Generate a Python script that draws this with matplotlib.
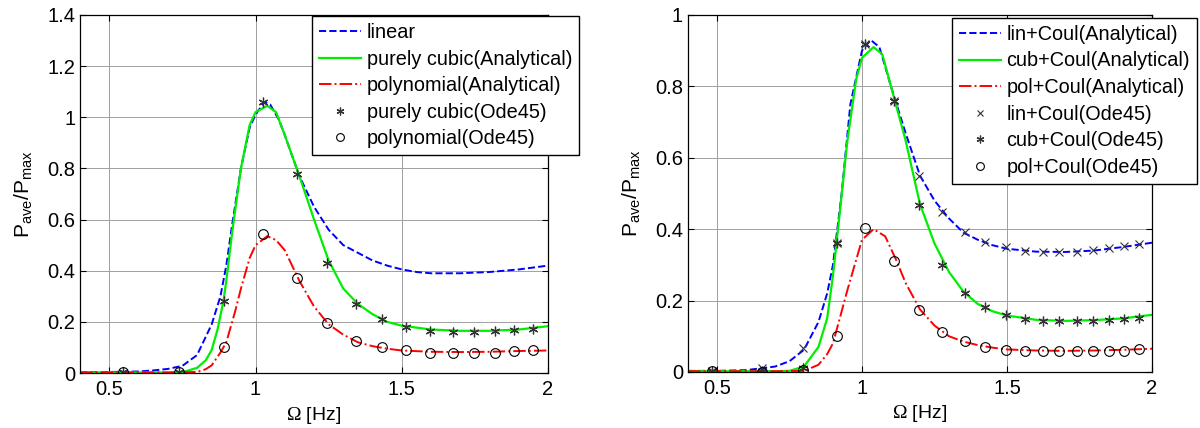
import numpy as np
import matplotlib.pyplot as plt
from matplotlib.ticker import FormatStrFormatter

plt.rcParams['font.family'] = ['Liberation Sans', 'DejaVu Sans']
plt.rcParams['mathtext.fontset'] = 'custom'
plt.rcParams['mathtext.rm'] = 'Liberation Sans'
plt.rcParams['mathtext.it'] = 'Liberation Sans'
plt.rcParams['mathtext.sf'] = 'Liberation Serif'

# ---- left panel: no Coulomb friction ----
lin_x = [0.4, 0.5, 0.6, 0.65, 0.7, 0.75, 0.8, 0.85, 0.88, 0.9, 0.92, 0.95, 0.98, 1.0, 1.03, 1.05,
         1.08, 1.1, 1.15, 1.2, 1.25, 1.3, 1.35, 1.4, 1.45, 1.5, 1.55, 1.6, 1.7, 1.8, 1.9, 2.0]
lin_y = [0.003, 0.004, 0.006, 0.01, 0.016, 0.028, 0.07, 0.19, 0.3, 0.42, 0.58, 0.8, 0.96, 1.01, 1.06, 1.05,
         0.99, 0.93, 0.77, 0.65, 0.56, 0.5, 0.47, 0.44, 0.42, 0.405, 0.395, 0.39, 0.39, 0.395, 0.405, 0.42]

cub_x = [0.4, 0.5, 0.6, 0.7, 0.75, 0.8, 0.83, 0.85, 0.87, 0.89, 0.9, 0.92, 0.95, 0.98, 1.0, 1.04,
         1.07, 1.1, 1.15, 1.2, 1.25, 1.3, 1.35, 1.4, 1.45, 1.5, 1.6, 1.7, 1.8, 1.9, 2.0]
cub_y = [0.002, 0.002, 0.002, 0.002, 0.003, 0.02, 0.05, 0.09, 0.17, 0.28, 0.36, 0.55, 0.8, 0.97, 1.02, 1.045,
         1.02, 0.93, 0.77, 0.6, 0.44, 0.33, 0.27, 0.23, 0.2, 0.185, 0.17, 0.165, 0.165, 0.17, 0.183]

pol_x = [0.4, 0.5, 0.6, 0.7, 0.8, 0.83, 0.85, 0.88, 0.9, 0.93, 0.95, 0.98, 1.0, 1.04, 1.07, 1.1,
         1.15, 1.2, 1.25, 1.3, 1.35, 1.4, 1.45, 1.5, 1.6, 1.7, 1.8, 1.9, 2.0]
pol_y = [0.002, 0.002, 0.002, 0.002, 0.004, 0.015, 0.03, 0.08, 0.12, 0.24, 0.33, 0.45, 0.5, 0.535, 0.52, 0.48,
         0.36, 0.26, 0.19, 0.15, 0.12, 0.105, 0.095, 0.088, 0.083, 0.082, 0.083, 0.086, 0.088]

ode_x = [0.546, 0.738, 0.893, 1.025, 1.142, 1.246, 1.343, 1.433, 1.515, 1.597, 1.674, 1.747, 1.82, 1.883, 1.95]
ode_cub = [0.003, 0.003, 0.28, 1.06, 0.78, 0.43, 0.27, 0.21, 0.18, 0.165, 0.162, 0.162, 0.165, 0.17, 0.172]
ode_pol = [0.003, 0.003, 0.1, 0.545, 0.37, 0.197, 0.127, 0.1, 0.088, 0.08, 0.08, 0.08, 0.08, 0.085, 0.088]

# ---- right panel: with Coulomb friction ----
linc_x = [0.4, 0.5, 0.6, 0.7, 0.75, 0.8, 0.85, 0.88, 0.9, 0.93, 0.96, 1.0, 1.03, 1.06, 1.1,
          1.15, 1.2, 1.25, 1.3, 1.35, 1.4, 1.45, 1.5, 1.6, 1.7, 1.8, 1.9, 2.0]
linc_y = [0.003, 0.003, 0.005, 0.015, 0.03, 0.062, 0.14, 0.22, 0.3, 0.5, 0.75, 0.9, 0.93, 0.91, 0.8,
          0.67, 0.55, 0.48, 0.43, 0.39, 0.37, 0.355, 0.345, 0.337, 0.336, 0.34, 0.35, 0.362]

cubc_x = [0.4, 0.5, 0.6, 0.7, 0.75, 0.8, 0.85, 0.88, 0.9, 0.92, 0.95, 0.98, 1.0, 1.04, 1.07, 1.1,
          1.15, 1.2, 1.25, 1.3, 1.35, 1.4, 1.45, 1.5, 1.6, 1.7, 1.8, 1.9, 2.0]
cubc_y = [0.002, 0.002, 0.002, 0.002, 0.003, 0.015, 0.07, 0.15, 0.27, 0.42, 0.65, 0.82, 0.88, 0.91, 0.89, 0.8,
          0.65, 0.47, 0.36, 0.28, 0.225, 0.19, 0.17, 0.158, 0.146, 0.143, 0.145, 0.15, 0.16]

polc_x = [0.4, 0.5, 0.6, 0.7, 0.8, 0.85, 0.88, 0.9, 0.93, 0.95, 1.0, 1.04, 1.08, 1.12,
          1.15, 1.2, 1.25, 1.3, 1.35, 1.4, 1.45, 1.5, 1.6, 1.7, 1.8, 1.9, 2.0]
polc_y = [0.002, 0.002, 0.002, 0.002, 0.003, 0.02, 0.05, 0.08, 0.17, 0.23, 0.37, 0.4, 0.38, 0.31,
          0.25, 0.175, 0.13, 0.1, 0.085, 0.075, 0.068, 0.063, 0.06, 0.059, 0.06, 0.062, 0.065]

odec_x = [0.482, 0.657, 0.797, 0.913, 1.012, 1.111, 1.195, 1.277, 1.354, 1.423, 1.495, 1.562, 1.624,
          1.681, 1.74, 1.796, 1.853, 1.902, 1.956]
odec_lin = [0.003, 0.01, 0.067, 0.36, 0.92, 0.76, 0.549, 0.447, 0.393, 0.365, 0.349, 0.34, 0.335,
            0.335, 0.337, 0.341, 0.346, 0.353, 0.358]
odec_cub = [0.002, 0.003, 0.01, 0.36, 0.92, 0.76, 0.467, 0.3, 0.22, 0.183, 0.16, 0.149, 0.143,
            0.143, 0.143, 0.143, 0.145, 0.148, 0.152]
odec_pol = [0.002, 0.001, 0.005, 0.102, 0.402, 0.311, 0.174, 0.111, 0.086, 0.07, 0.062, 0.06, 0.058,
            0.058, 0.058, 0.058, 0.06, 0.06, 0.063]

asterisk = (6, 2, 0)
mk = dict(linestyle='none', color='#333333', markersize=7, markeredgewidth=0.9)
circ = dict(linestyle='none', marker='o', markerfacecolor='none', markeredgecolor='black',
            markersize=7, markeredgewidth=0.8)

fig = plt.figure(figsize=(12, 4.28), dpi=100)
ax1 = fig.add_axes([0.0667, 0.1285, 0.39, 0.8365])
ax2 = fig.add_axes([0.5733, 0.131, 0.3867, 0.834])


def style(ax, ymax, ystep):
    ax.set_xlim(0.4, 2)
    ax.set_ylim(0, ymax)
    ax.set_xticks([0.5, 1, 1.5, 2])
    ax.set_yticks(np.arange(0, ymax + 1e-9, ystep))
    ax.xaxis.set_major_formatter(FormatStrFormatter('%g'))
    ax.yaxis.set_major_formatter(FormatStrFormatter('%g'))
    ax.grid(True, color='#a0a0a0', linewidth=0.7)
    ax.tick_params(direction='in', top=True, right=True, labelsize=14.5, length=4)
    ax.tick_params(axis='x', pad=5)
    for s in ax.spines.values():
        s.set_linewidth(0.9)
    ax.set_xlabel(r'$\mathsf{\Omega}$ [Hz]', fontsize=14, labelpad=4)
    ax.set_ylabel(r'P$_{\rm ave}$/P$_{\rm max}$', fontsize=15, labelpad=9)


ax1.plot(lin_x, lin_y, '--', color='blue', lw=1.4, label='linear')
ax1.plot(cub_x, cub_y, '-', color='#00ee00', lw=1.6, label='purely cubic(Analytical)')
ax1.plot(pol_x, pol_y, '-.', color='red', lw=1.4, label='polynomial(Analytical)')
ax1.plot(ode_x, ode_cub, marker=asterisk, label='purely cubic(Ode45)', **mk)
ax1.plot(ode_x, ode_pol, label='polynomial(Ode45)', **circ)
style(ax1, 1.4, 0.2)

ax2.plot(linc_x, linc_y, '--', color='blue', lw=1.4, label='lin+Coul(Analytical)')
ax2.plot(cubc_x, cubc_y, '-', color='#00ee00', lw=1.6, label='cub+Coul(Analytical)')
ax2.plot(polc_x, polc_y, '-.', color='red', lw=1.4, label='pol+Coul(Analytical)')
ax2.plot(odec_x, odec_lin, marker='x', label='lin+Coul(Ode45)', linestyle='none', color='#333333',
         markersize=5.5, markeredgewidth=0.8)
ax2.plot(odec_x, odec_cub, marker=asterisk, label='cub+Coul(Ode45)', **mk)
ax2.plot(odec_x, odec_pol, label='pol+Coul(Ode45)', **circ)
style(ax2, 1.0, 0.2)

for ax, anchor in [(ax1, (0.26, 0.9626)), (ax2, (0.7933, 0.958))]:
    leg = ax.legend(loc='upper left', bbox_to_anchor=anchor, bbox_transform=fig.transFigure,
                    fontsize=14.3, fancybox=False, framealpha=1, edgecolor='black',
                    borderpad=0.35, labelspacing=0.38, handlelength=2.1, handletextpad=0.3,
                    borderaxespad=0, markerscale=0.8)
    leg.get_frame().set_linewidth(1.0)
    leg.set_zorder(5)

fig.savefig('out.png', dpi=100)
